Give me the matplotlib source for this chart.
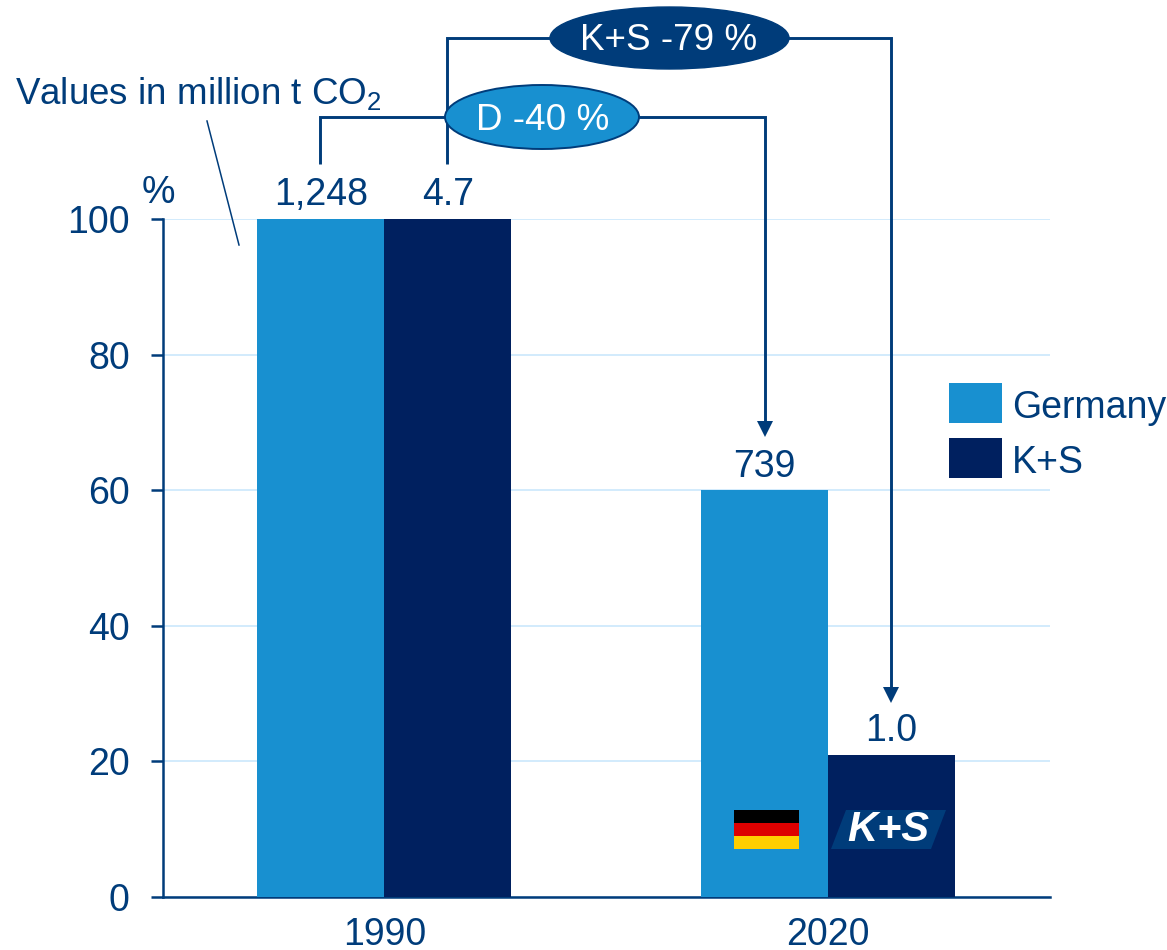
import matplotlib
matplotlib.use("Agg")
import matplotlib.pyplot as plt
from matplotlib.patches import Ellipse, Rectangle, Polygon

plt.rcParams['font.family'] = ['Liberation Sans', 'DejaVu Sans']
plt.rcParams['mathtext.fontset'] = 'custom'
plt.rcParams['mathtext.rm'] = 'Liberation Sans'
plt.rcParams['mathtext.default'] = 'regular'

years = ['1990', '2020']
germany = [100, 60]
ks = [100, 21]
germany_labels = ['1,248', '739']
ks_labels = ['4.7', '1.0']
yticks = [0, 20, 40, 60, 80, 100]

NAVY = '#003C7A'
BLUE = '#1890D0'
DARK = '#00205F'
GRID = '#CFE9FC'
FS = 27
W, H = 1167, 950

fig = plt.figure(figsize=(W / 100, H / 100), dpi=100)
ax = fig.add_axes([162.5 / W, 1 - 897 / H, 887.5 / W, 678 / H])
w = 127 / 444
xs = range(len(years))
b1 = ax.bar([x - w / 2 for x in xs], germany, w, color=BLUE, label='Germany', zorder=3)
b2 = ax.bar([x + w / 2 for x in xs], ks, w, color=DARK, label='K+S', zorder=3)
ax.set_xlim(-0.5, 1.5)
ax.set_ylim(0, 100)
ax.set_yticks(yticks)
ax.set_xticks(list(xs), years)
ax.grid(axis='y', color=GRID, lw=1.3, zorder=0)
ax.set_axisbelow(True)
for s in ('top', 'right'):
    ax.spines[s].set_visible(False)
for s in ('left', 'bottom'):
    ax.spines[s].set_color(NAVY)
    ax.spines[s].set_linewidth(1.8)
ax.tick_params(axis='y', colors=NAVY, labelsize=FS, length=8.5, width=1.8, pad=15)
ax.tick_params(axis='x', colors=NAVY, labelsize=FS, length=0, pad=14.5)

for bars, labels in ((b1, germany_labels), (b2, ks_labels)):
    ax.bar_label(bars, labels, padding=4, fontsize=FS, color=NAVY)

leg = ax.legend(loc='upper left', bbox_to_anchor=(949 / W, 1 - 383 / H), bbox_transform=fig.transFigure,
                frameon=False, fontsize=FS, handlelength=1.41, handleheight=1.265, labelspacing=0.38,
                handletextpad=0.27, borderpad=0, borderaxespad=0, labelcolor=NAVY)
for t in leg.get_texts():
    t.set_y(-2.5)

# Annotation overlay in pixel coordinates
ov = fig.add_axes([0, 0, 1, 1], zorder=5)
ov.set_xlim(0, W)
ov.set_ylim(H, 0)
ov.axis('off')
ov.patch.set_alpha(0)
LW = 2.1

def arrow_path(pts, tip=None):
    ov.plot(*zip(*pts), color=NAVY, lw=LW, solid_joinstyle='miter', solid_capstyle='butt')
    if tip:
        x, y = tip
        ov.add_patch(Polygon([(x - 8, y - 16), (x + 8, y - 16), (x, y)], color=NAVY, lw=0))

arrow_path([(447, 164), (447, 38), (891, 38), (891, 690)], tip=(891, 703))
arrow_path([(320, 164), (320, 117), (765, 117), (765, 424)], tip=(765, 437))

ov.add_patch(Ellipse((669.5, 38), 239, 62, fc=NAVY, ec=NAVY, lw=1, zorder=3))
ov.text(669, 41, 'K+S -79 %', color='white', fontsize=26.6, ha='center', va='center', zorder=4)
ov.add_patch(Ellipse((542, 117), 194, 64, fc=BLUE, ec=NAVY, lw=1.4, zorder=3))
ov.text(542.5, 120, 'D -40 %', color='white', fontsize=26.6, ha='center', va='center', zorder=4)

ov.text(15, 104, 'Values in million t CO$_2$', color=NAVY, fontsize=26.5, ha='left', va='baseline')
ov.plot([207, 239], [121, 245], color=NAVY, lw=1.1)
ov.text(158, 203, '%', color=NAVY, fontsize=FS, ha='center', va='baseline')

# German flag
for top, c in ((810, '#000000'), (823, '#DD0000'), (836, '#FFCE00')):
    ov.add_patch(Rectangle((734, top), 65, 13, fc=c, lw=0, zorder=3))
# K+S logo
ov.add_patch(Polygon([(846, 810), (946, 810), (931, 849), (831, 849)], fc=NAVY, lw=0, zorder=3))
ov.text(888, 830, 'K+S', color='white', fontsize=30, fontweight='bold', style='italic',
        ha='center', va='center', zorder=4)

fig.savefig('out.png', dpi=100)
